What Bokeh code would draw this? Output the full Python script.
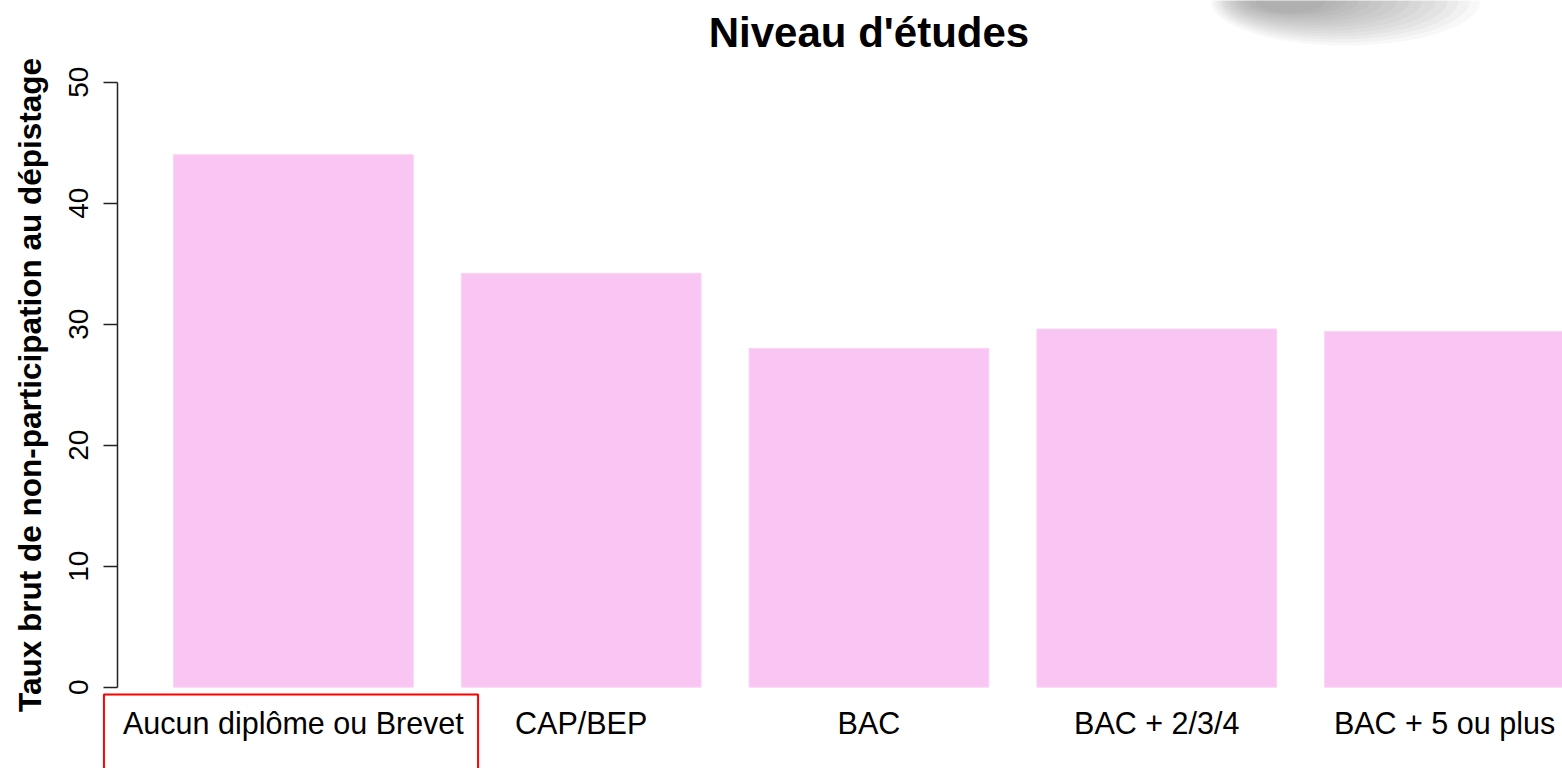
from bokeh.plotting import figure
from bokeh.models import Range1d, FixedTicker, ColumnDataSource, Label
from bokeh.embed import file_html
from bokeh.resources import INLINE
from bokeh.core.properties import value

# ---- data ----
categories = ["Aucun diplôme ou Brevet", "CAP/BEP", "BAC", "BAC + 2/3/4", "BAC + 5 ou plus"]
rates = [44.0, 34.2, 28.0, 29.6, 29.4]
y_ticks = [0, 10, 20, 30, 40, 50]
title_text = "Niveau d'études"
y_label = "Taux brut de non-participation au dépistage"
highlighted = "Aucun diplôme ou Brevet"

# ---- layout (R barplot style: width 1, space 0.2) ----
bar_w = 1.0
space = 0.2
n = len(categories)
centers = [space + bar_w / 2 + i * (bar_w + space) for i in range(n)]
x_span = n * (bar_w + space) - space
usr_x_lo = space - 0.04 * x_span          # R plot-region left edge (axis position)
usr_x_hi = n * (bar_w + space) + 0.04 * x_span
title_x = (usr_x_lo + usr_x_hi) / 2

src = ColumnDataSource(dict(x=centers, top=rates, label=categories))

FONT = "Liberation Sans"
Y_TOP = 56.75

p = figure(width=1562, height=768, output_backend="svg", toolbar_location=None,
           title=None,
           x_range=Range1d(-0.5214, 5.992), y_range=Range1d(-6.72, Y_TOP),
           x_axis_location=None,
           min_border_left=0, min_border_right=0, min_border_top=0, min_border_bottom=0)

# soft grey shadow (page decoration at top right)
p.ellipse(x=[5.087, 5.071, 5.054, 5.038, 5.017, 4.996, 4.975, 4.954, 4.933, 4.912,
             4.896, 4.879, 4.866, 4.858],
          y=[Y_TOP] * 14,
          width=[270, 256, 242, 228, 214, 198, 182, 166, 150, 134, 118, 102, 86, 70],
          height=[90, 84, 78, 72, 66, 60, 54, 49, 44, 39, 34, 30, 27, 24],
          width_units="screen", height_units="screen",
          fill_color="#555555", fill_alpha=0.045, line_color=None)

p.vbar(x="x", top="top", bottom=0, width=bar_w, source=src,
       fill_color="#F9C6F3", line_color="#FBD3F7", line_width=1)

p.text(x="x", y=0, text="label", source=src, y_offset=36,
       text_align="center", text_baseline="middle",
       text_font=value(FONT), text_font_size="30.5px", text_color="black")

i0 = categories.index(highlighted)
p.quad(left=centers[i0] - 0.79, right=centers[i0] + 0.77, top=-0.6, bottom=-8,
       fill_alpha=0, line_color="#FF0000", line_width=2)

p.add_layout(Label(x=title_x, y=54.1, text=title_text, text_align="center",
                   text_baseline="middle", text_font=FONT, text_font_style="bold",
                   text_font_size="42px", text_color="black"))

p.xgrid.visible = False
p.ygrid.visible = False
p.outline_line_color = None
p.background_fill_color = "white"
p.border_fill_color = "white"

ax = p.yaxis[0]
ax.fixed_location = usr_x_lo
ax.bounds = (0, 50)
ax.ticker = FixedTicker(ticks=y_ticks)
ax.minor_tick_line_color = None
ax.major_tick_out = 14
ax.major_tick_in = 0
ax.major_tick_line_width = 1.5
ax.axis_line_width = 1.5
ax.axis_line_color = "#222222"
ax.major_tick_line_color = "#222222"
ax.major_label_orientation = "vertical"
ax.major_label_text_font = FONT
ax.major_label_text_font_size = "28px"
ax.major_label_text_color = "black"
ax.major_label_standoff = 16
ax.axis_label = y_label
ax.axis_label_text_font = FONT
ax.axis_label_text_font_style = "bold"
ax.axis_label_text_font_size = "31.5px"
ax.axis_label_text_color = "black"
ax.axis_label_standoff = 18

open("out.html", "w").write(file_html(p, INLINE))
